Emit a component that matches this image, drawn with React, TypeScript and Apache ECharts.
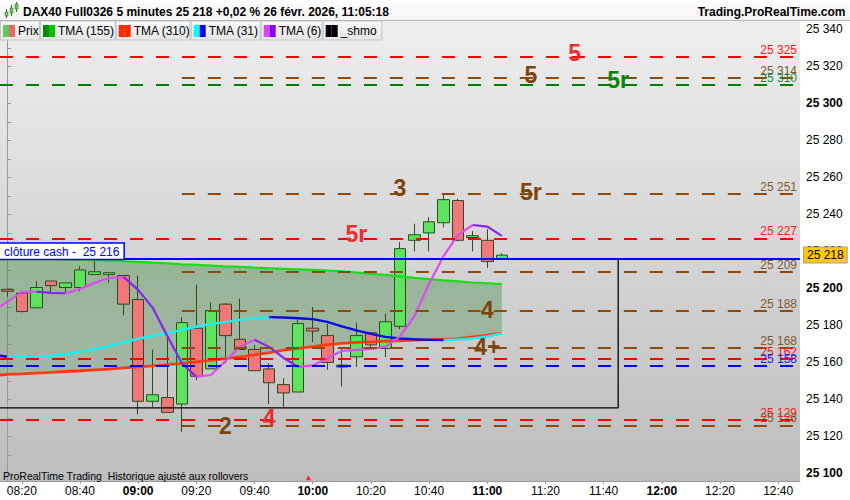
import React, { useEffect, useRef } from 'react';
import * as echarts from 'echarts';

const FONT = '"Liberation Sans", Arial, sans-serif';

// ---------- categories (5-minute bars) ----------
const timeLabels = [
  '08:15', '08:20', '08:25', '08:30', '08:35', '08:40', '08:45', '08:50', '08:55',
  '09:00', '09:05', '09:10', '09:15', '09:20', '09:25', '09:30', '09:35', '09:40', '09:45', '09:50', '09:55',
  '10:00', '10:05', '10:10', '10:15', '10:20', '10:25', '10:30', '10:35', '10:40', '10:45', '10:50', '10:55',
  '11:00', '11:05', '11:10', '11:15', '11:20', '11:25', '11:30', '11:35', '11:40', '11:45', '11:50', '11:55',
  '12:00', '12:05', '12:10', '12:15', '12:20', '12:25', '12:30', '12:35', '12:40', '12:45',
];

// ---------- candles 08:15 .. 11:05 ----------
const candleOpen = [
  25199.5, 25197.5, 25189.5, 25204, 25200.5, 25200.5, 25207.5, 25207.5, 25207, 25194,
  25139, 25141, 25137.5, 25178.5, 25156.5, 25191.5, 25172.5, 25167, 25156.5, 25148,
  25144, 25178.5, 25174.5, 25157.5, 25163, 25176, 25167.5, 25179.5, 25226, 25230,
  25235.5, 25247.5, 25227.5, 25226, 25216,
];
const candleClose = [
  25198.5, 25187.5, 25200.5, 25201.5, 25203, 25210, 25209, 25208.5, 25191.5, 25139,
  25142.5, 25133, 25181.5, 25152.5, 25188, 25174.5, 25167, 25155.5, 25149, 25143.5,
  25181, 25177, 25160, 25158.5, 25174.5, 25169.5, 25182, 25221.5, 25229, 25236,
  25248, 25226, 25228.5, 25214.5, 25218,
];
const candleLow = [
  25195.5, 25187, 25189.5, 25197, 25197.5, 25198.5, 25207.5, 25203, 25185.5, 25132,
  25136, 25133, 25122.5, 25150.5, 25156.5, 25159.5, 25167, 25155.5, 25137.5, 25136,
  25144, 25171, 25156, 25147, 25157.5, 25167, 25163, 25178, 25220, 25220,
  25233, 25225.5, 25220, 25211, 25216,
];
const candleHigh = [
  25199.5, 25198, 25204, 25204, 25203, 25212, 25215.5, 25208.5, 25207, 25207,
  25167, 25175, 25184.5, 25202, 25192.5, 25192, 25194.5, 25169.5, 25159.5, 25151.5,
  25183, 25190, 25181, 25167.5, 25181.5, 25176.5, 25186.5, 25225, 25235, 25238.5,
  25251, 25248.5, 25231, 25232, 25219,
];

// ---------- moving averages (value at left edge, then one per candle) ----------
const tma155Edge = 25216.4;
const tma155 = [
  25216.3, 25216.2, 25216.1, 25215.9, 25215.8, 25215.6, 25215.3, 25215, 25214.7, 25214.3,
  25213.9, 25213.5, 25213, 25212.7, 25212.3, 25211.9, 25211.6, 25211.2, 25210.9, 25210.6,
  25210.3, 25210, 25209.6, 25209.2, 25208.6, 25207.9, 25207.3, 25206.5, 25205.7, 25205,
  25204.3, 25203.8, 25203.2, 25202.8, 25202.3,
];
const tma310Edge = 25153.2;
const tma310 = [
  25153.5, 25153.8, 25154.2, 25154.6, 25155.1, 25155.5, 25156, 25156.4, 25157, 25157.6,
  25158.1, 25158.8, 25159.5, 25160.3, 25161.1, 25162, 25163, 25164.1, 25165.3, 25166.6,
  25167.6, 25168.5, 25169.6, 25170.3, 25170.8, 25171.1, 25171.5, 25171.7, 25172, 25172.3,
  25172.5, 25172.9, 25173.8, 25174.7, 25175.8,
];
const tma31Edge = 25163.6;
const tma31 = [
  25163.1, 25163.2, 25163.3, 25163.6, 25164.4, 25165.8, 25167.1, 25168.9, 25170.9, 25172.8,
  25174.3, 25175.8, 25177.6, 25179.3, 25180.8, 25181.9, 25183, 25183.8, 25184.5, 25184.3,
  25183.9, 25183.4, 25181.9, 25179.5, 25177.3, 25175.4, 25173.8, 25172.9, 25172.5, 25172.2,
  25172.1, 25172.4, 25172.9, 25174, 25175.7,
];
const tma6Edge = 25190.2;
const tma6 = [
  25192.7, 25198.1, 25198.3, 25197.6, 25197.4, 25199.7, 25203, 25205.7, 25206.1, 25199.2,
  25189.5, 25174.3, 25159.7, 25152.2, 25153.2, 25160.8, 25168.4, 25172.2, 25168.4, 25162.4,
  25157.6, 25158.4, 25162.4, 25166.2, 25166.8, 25167.3, 25168.4, 25174.1, 25185.1, 25202.4,
  25217.6, 25228.9, 25234.3, 25233.4, 25228.4,
];

// ---------- horizontal levels ----------
const levelValues = [25325, 25314, 25310, 25251, 25227, 25209, 25188, 25168, 25162, 25158, 25129, 25126];
const levelKinds = ['red', 'brown', 'green', 'brown', 'red', 'brown', 'brown', 'brown', 'red', 'blue', 'red', 'brown'];
const levelStartTime: (string | null)[] = [null, '09:15', null, '09:15', null, '09:15', '09:15', '09:15', null, null, null, '09:15'];

const cashClose = 25216;
const lastPrice = 25218;

// _shmo box
const shmoTop = 25216;
const shmoBottom = 25135.4;
const shmoEndTime = '11:45';

// wave labels
const waveTexts = ['5', '5', '5r', '3', '5r', '5r', '4', '4+', '2', '4'];
const waveTimes = ['11:30', '11:15', '11:45', '10:30', '11:15', '10:15', '11:00', '11:00', '09:30', '09:45'];
const waveValues = [25327.1, 25315.4, 25312.5, 25254.2, 25252.2, 25229.6, 25188.4, 25168.3, 25125.7, 25129.8];
const waveKinds = ['red', 'brown', 'green', 'brown', 'brown', 'red', 'brown', 'brown', 'brown', 'red'];

// small red marker at bottom
const markerTimes = [20.7];
const markerValues = [25097.6];

const titleText = 'DAX40 Full0326 5 minutes 25 218 +0,02 % 26 févr. 2026, 11:05:18';
const siteText = 'Trading.ProRealTime.com';
const footText = 'ProRealTime Trading  Historique ajusté aux rollovers';
const legendNames = ['Prix', 'TMA (155)', 'TMA (310)', 'TMA (31)', 'TMA (6)', '_shmo'];

// ---------- styles ----------
const LEVEL_STYLE: Record<string, { line: string; label: string }> = {
  red: { line: '#ff0000', label: '#ff1a1a' },
  brown: { line: '#8b4a10', label: '#7d5a2c' },
  green: { line: '#008000', label: '#15924a' },
  blue: { line: '#0000ff', label: '#1a1aff' },
};
const WAVE_COLOR: Record<string, string> = { red: '#e83030', brown: '#7a440c', green: '#0a850a' };

const Y_MIN = 25095.9;
const Y_MAX = 25345.1;
const X_MIN = -0.5;
const X_MAX = timeLabels.length - 0.5;

const fmt = (v: number) => {
  const s = Math.round(v).toString();
  return s.slice(0, s.length - 3) + ' ' + s.slice(-3);
};

function runs(xs: number[], ys: number[]) {
  const out: { up: boolean; pts: number[][] }[] = [];
  let start = 0;
  let dir = ys[1] >= ys[0];
  for (let k = 2; k < ys.length; k++) {
    const d = ys[k] >= ys[k - 1];
    if (d !== dir) {
      out.push({ up: dir, pts: xs.slice(start, k).map((x, j) => [x, ys[start + j]]) });
      start = k - 1;
      dir = d;
    }
  }
  out.push({ up: dir, pts: xs.slice(start).map((x, j) => [x, ys[start + j]]) });
  return out;
}

function buildOption(): any {
  const idx = candleOpen.map((_, i) => i);
  const xsFull = [X_MIN, ...idx];
  const t155 = [tma155Edge, ...tma155];
  const t310 = [tma310Edge, ...tma310];
  const t31 = [tma31Edge, ...tma31];
  const t6 = [tma6Edge, ...tma6];

  const candleData = idx.map((i) => [i, candleOpen[i], candleClose[i], candleLow[i], candleHigh[i]]);

  const series: any[] = [];

  // fill between TMA155 and TMA310
  series.push({
    type: 'custom',
    xAxisIndex: 1,
    z: 1,
    silent: true,
    data: [[0, t155[1]]],
    renderItem: (params: any, api: any) => {
      const top = xsFull.map((x, k) => api.coord([x, t155[k]]));
      const bot = xsFull.map((x, k) => api.coord([x, t310[k]])).reverse();
      return {
        type: 'polygon',
        shape: { points: top.concat(bot) },
        style: {
          fill: new echarts.graphic.LinearGradient(0, 0, 0, 1, [
            { offset: 0, color: 'rgba(40,125,40,0.36)' },
            { offset: 1, color: 'rgba(40,125,40,0.24)' },
          ]),
        },
      };
    },
  });

  series.push({
    type: 'candlestick',
    xAxisIndex: 1,
    z: 2,
    silent: true,
    barWidth: 12,
    data: candleData,
    itemStyle: {
      color: '#5ee35e',
      color0: '#f07878',
      borderColor: '#27501a',
      borderColor0: '#34461f',
      borderWidth: 1,
    },
  });

  const lineSeries = (pts: number[][], color: string, width: number) => ({
    type: 'line',
    xAxisIndex: 1,
    z: 3,
    silent: true,
    symbol: 'none',
    showSymbol: false,
    data: pts,
    lineStyle: { color, width },
  });

  series.push(lineSeries(xsFull.map((x, k) => [x, t310[k]]), '#ff3b0f', 2.8));
  series.push(lineSeries(xsFull.map((x, k) => [x, t155[k]]), '#19dc19', 2.2));
  runs(xsFull, t31).forEach((r) => series.push(lineSeries(r.pts, r.up ? '#19f0f0' : '#0a0ae6', 2.4)));
  runs(xsFull, t6).forEach((r) => series.push(lineSeries(r.pts, r.up ? '#dc4cf0' : '#8a22f0', 2.2)));

  // levels
  const markData: any[] = levelValues.map((v, k) => {
    const st = LEVEL_STYLE[levelKinds[k]];
    const st0 = levelStartTime[k];
    const x0 = st0 === null ? X_MIN : timeLabels.indexOf(st0);
    return [
      {
        coord: [x0, v],
        lineStyle: { color: st.line, width: 2, type: [13, 13] },
        label: {
          show: true,
          position: 'insideEndTop',
          formatter: fmt(v),
          color: st.label,
          fontSize: 12,
          fontFamily: FONT,
          distance: [3, 1],
        },
      },
      { coord: [X_MAX, v] },
    ];
  });
  markData.push([
    {
      coord: [X_MIN, cashClose],
      lineStyle: { color: '#0000ff', width: 2, type: 'solid' },
      label: {
        show: true,
        position: 'insideStartTop',
        formatter: 'clôture cash -  ' + fmt(cashClose),
        color: '#0000ff',
        fontSize: 12,
        fontFamily: FONT,
        backgroundColor: '#ffffff',
        borderColor: '#0000ff',
        borderWidth: 1.5,
        padding: [2, 4, 1, 4],
        distance: [0, 0],
      },
    },
    { coord: [X_MAX, cashClose] },
  ]);
  markData.push([
    {
      coord: [X_MIN, lastPrice],
      lineStyle: { color: 'rgba(0,0,0,0)', width: 0 },
      label: {
        show: true,
        position: 'end',
        formatter: fmt(lastPrice),
        color: '#000',
        fontSize: 12,
        fontFamily: FONT,
        backgroundColor: '#ffc800',
        borderColor: '#a0a0a0',
        borderWidth: 1,
        padding: [2, 3, 1, 3],
        distance: 4,
      },
    },
    { coord: [X_MAX, lastPrice] },
  ]);

  const endIdx = timeLabels.indexOf(shmoEndTime);
  series.push({
    type: 'line',
    xAxisIndex: 1,
    z: 4,
    silent: true,
    symbol: 'none',
    showSymbol: false,
    clip: true,
    data: [
      [X_MIN - 1, shmoTop],
      [endIdx, shmoTop],
      [endIdx, shmoBottom],
      [X_MIN - 1, shmoBottom],
    ],
    lineStyle: { color: '#000000', width: 1.3 },
    markLine: {
      silent: true,
      symbol: ['none', 'none'],
      animation: false,
      data: markData,
    },
  });

  series.push({
    type: 'scatter',
    xAxisIndex: 1,
    z: 6,
    silent: true,
    symbolSize: 1,
    itemStyle: { color: 'rgba(0,0,0,0)', opacity: 1 },
    data: waveTexts.map((t, k) => ({
      value: [timeLabels.indexOf(waveTimes[k]), waveValues[k]],
      label: {
        show: true,
        position: 'inside',
        formatter: t,
        color: WAVE_COLOR[waveKinds[k]],
        opacity: 1,
        fontSize: 23,
        fontWeight: 'bold',
        fontFamily: FONT,
      },
    })),
  });

  series.push({
    type: 'scatter',
    xAxisIndex: 1,
    z: 6,
    silent: true,
    symbol: 'triangle',
    symbolSize: 5,
    itemStyle: { color: '#ff2020', opacity: 1 },
    data: markerTimes.map((t, k) => [t, markerValues[k]]),
  });

  // ---------- graphics: header, legend row, footer ----------
  const g: any[] = [];
  g.push({
    type: 'rect', z: 100, silent: true,
    shape: { x: 0, y: 0, width: 850, height: 20 },
    style: {
      fill: new echarts.graphic.LinearGradient(0, 0, 0, 1, [
        { offset: 0, color: '#ffffff' },
        { offset: 1, color: '#f3f3f3' },
      ]),
    },
  });
  g.push({ type: 'line', z: 101, silent: true, shape: { x1: 0, y1: 20.5, x2: 850, y2: 20.5 }, style: { stroke: '#b8b8b8', lineWidth: 1 } });
  // icon
  const icon = [
    { x: 5, y1: 9, y2: 18, b1: 12, b2: 16 },
    { x: 10, y1: 5, y2: 16, b1: 8, b2: 13 },
    { x: 15, y1: 2, y2: 12, b1: 4, b2: 9 },
  ];
  icon.forEach((c) => {
    g.push({ type: 'line', z: 102, silent: true, shape: { x1: c.x + 1.5, y1: c.y1, x2: c.x + 1.5, y2: c.y2 }, style: { stroke: '#3a6a2a', lineWidth: 1 } });
    g.push({ type: 'rect', z: 103, silent: true, shape: { x: c.x, y: c.b1, width: 3, height: c.b2 - c.b1 }, style: { fill: '#5cd65c', stroke: '#3a6a2a', lineWidth: 0.6 } });
  });
  g.push({
    type: 'text', z: 102, silent: true, x: 23, y: 11.5,
    style: { text: titleText, fontSize: 12, fontWeight: 'bold', fontFamily: FONT, fill: '#000', align: 'left', verticalAlign: 'middle', textAlign: 'left', textVerticalAlign: 'middle' },
  });
  g.push({
    type: 'text', z: 102, silent: true, x: 845.5, y: 11.5,
    style: { text: siteText, fontSize: 12, fontWeight: 'bold', fontFamily: FONT, fill: '#000', align: 'right', verticalAlign: 'middle', textAlign: 'right', textVerticalAlign: 'middle' },
  });

  const legendBounds = [0, 40, 115.7, 190.7, 260.7, 322.7, 382.3];
  const legendSwatch = [
    ['#5ec95e', '#e36a6a'],
    ['#008a00', '#00c800'],
    ['#ff2a00', '#ff2a00'],
    ['#00ffff', '#0000ff'],
    ['#e040ff', '#8800ff'],
    ['#000000', '#000000'],
  ];
  legendNames.forEach((name, k) => {
    const x0 = legendBounds[k];
    const x1 = legendBounds[k + 1];
    g.push({
      type: 'rect', z: 100, silent: true,
      shape: { x: x0 + 0.5, y: 21, width: x1 - x0 - 1, height: 19 },
      style: {
        fill: new echarts.graphic.LinearGradient(0, 0, 0, 1, [
          { offset: 0, color: '#f8f8f8' },
          { offset: 1, color: '#e6e6e6' },
        ]),
        stroke: '#c6c6c6',
        lineWidth: 1,
      },
    });
    g.push({ type: 'rect', z: 101, silent: true, shape: { x: x0 + 3, y: 25, width: 6, height: 12 }, style: { fill: legendSwatch[k][0] } });
    g.push({ type: 'rect', z: 101, silent: true, shape: { x: x0 + 9, y: 25, width: 6, height: 12 }, style: { fill: legendSwatch[k][1] } });
    g.push({
      type: 'text', z: 101, silent: true, x: x0 + 18, y: 31,
      style: { text: name, fontSize: 12, fontFamily: FONT, fill: '#000', align: 'left', verticalAlign: 'middle', textAlign: 'left', textVerticalAlign: 'middle' },
    });
  });
  g.push({
    type: 'text', z: 50, silent: true, x: 3, y: 475.5,
    style: { text: footText, fontSize: 10.5, fontFamily: FONT, fill: '#000', align: 'left', verticalAlign: 'middle', textAlign: 'left', textVerticalAlign: 'middle' },
  });

  const everyFour = (i: number) => i % 4 === 1;

  return {
    animation: false,
    backgroundColor: '#ffffff',
    textStyle: { fontFamily: FONT },
    grid: {
      left: 0, right: 50, top: 20, bottom: 19,
      show: true,
      borderWidth: 0,
      outerBoundsMode: 'none',
      containLabel: false,
      backgroundColor: new echarts.graphic.LinearGradient(0, 0, 0, 1, [
        { offset: 0, color: '#eeeeee' },
        { offset: 1, color: '#bdbdbd' },
      ]),
    },
    xAxis: [
      {
        type: 'category',
        data: timeLabels,
        boundaryGap: true,
        position: 'bottom',
        axisLine: { show: true, lineStyle: { color: '#9a9a9a', width: 1 } },
        axisTick: { show: true, alignWithLabel: true, interval: everyFour, length: 3, lineStyle: { color: '#9a9a9a' } },
        axisLabel: {
          interval: everyFour,
          margin: 4,
          color: '#000',
          fontSize: 12,
          fontFamily: FONT,
          formatter: (v: string) => (v.endsWith(':00') ? `{b|${v}}` : v),
          rich: { b: { fontWeight: 'bold', fontSize: 12, fontFamily: FONT, color: '#000' } },
        },
        splitLine: { show: false },
      },
      { type: 'value', show: false, min: X_MIN, max: X_MAX },
    ],
    yAxis: {
      type: 'value',
      position: 'right',
      min: Y_MIN,
      max: Y_MAX,
      splitNumber: 12,
      axisLine: { show: true, lineStyle: { color: '#9a9a9a' } },
      axisTick: { show: true, length: 4, lineStyle: { color: '#9a9a9a' } },
      minorTick: { show: true, splitNumber: 2, length: 4, lineStyle: { color: '#9a9a9a' } },
      splitLine: { show: false },
      axisLabel: {
        margin: 6,
        showMinLabel: false,
        showMaxLabel: false,
        color: '#000',
        fontSize: 12,
        fontFamily: FONT,
        formatter: (v: number) => (Math.round(v) % 100 === 0 ? `{b|${fmt(v)}}` : fmt(v)),
        rich: { b: { fontWeight: 'bold', fontSize: 12, fontFamily: FONT, color: '#000' } },
      },
    },
    graphic: { elements: g },
    series,
  };
}

export default function App() {
  const ref = useRef<HTMLDivElement>(null);
  useEffect(() => {
    if (!ref.current) return;
    const chart = echarts.init(ref.current, null, { renderer: 'svg' });
    chart.setOption(buildOption());
    return () => chart.dispose();
  }, []);
  return <div ref={ref} style={{ position: 'absolute', left: 0, top: 0, width: 850, height: 500 }} />;
}
